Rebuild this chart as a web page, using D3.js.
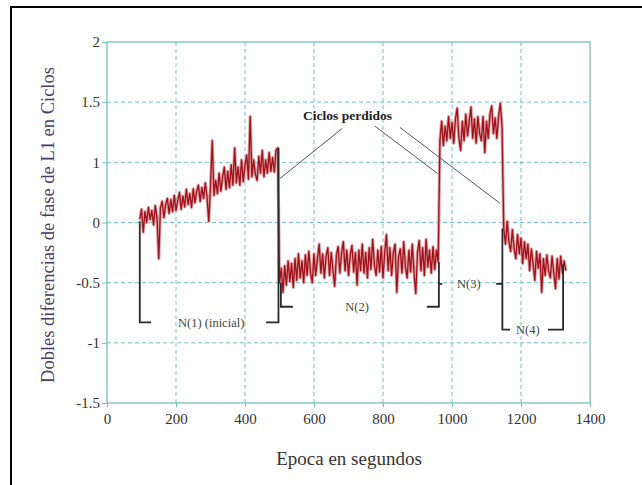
<!DOCTYPE html>
<html>
<head>
<meta charset="utf-8">
<script src="https://cdn.jsdelivr.net/npm/d3@7"></script>
<style>
  body { margin: 0; background: #fff; }
  text { font-family: "Liberation Serif", "Times New Roman", serif; }
</style>
</head>
<body>
<svg id="chart" width="642" height="485"></svg>
<script>
// tick labels (the original axis skips 0.5, grid lines are evenly spaced)
const xTicks = [0, 200, 400, 600, 800, 1000, 1200, 1400];
const yTicks = [-1.5, -1, -0.5, 0, 1, 1.5, 2];

// epoch sampling (seconds)
const step = 5;
const segStart = [95, 500, 965, 1150];

// double differences, cycles
const seg1 = [0.05, 0.22, -0.08, 0.18, 0.00, 0.25, 0.05, 0.20, -0.02, 0.28, 0.08, -0.30, 0.25, 0.35, 0.08, 0.30,
  0.40, 0.15, 0.38, 0.18, 0.45, 0.20, 0.36, 0.50, 0.22, 0.44, 0.26, 0.55, 0.30, 0.48, 0.25, 0.56, 0.33, 0.52,
  0.62, 0.35, 0.58, 0.40, 0.66, 0.42, 0.02, 0.60, 1.18, 0.45, 0.70, 0.48, 0.82, 0.52, 0.75, 0.92, 0.55, 0.85,
  0.58, 0.96, 0.62, 1.12, 0.66, 0.92, 0.62, 1.02, 0.68, 0.95, 1.06, 0.72, 1.38, 0.76, 1.02, 0.80, 0.70, 1.05,
  0.82, 1.10, 0.76, 1.02, 0.82, 1.08, 0.85, 1.04, 0.84, 1.10, 1.12];
const seg2 = [-0.50, -0.38, -0.58, -0.36, -0.52, -0.32, -0.49, -0.34, -0.54, -0.30, -0.48, -0.26, -0.46, -0.32,
  -0.50, -0.27, -0.44, -0.24, -0.42, -0.50, -0.26, -0.44, -0.30, -0.18, -0.42, -0.26, -0.46, -0.28, -0.21,
  -0.44, -0.25, -0.40, -0.53, -0.27, -0.20, -0.42, -0.25, -0.16, -0.40, -0.23, -0.44, -0.27, -0.19, -0.41,
  -0.25, -0.52, -0.23, -0.40, -0.18, -0.42, -0.25, -0.46, -0.21, -0.39, -0.14, -0.35, -0.44, -0.23, -0.41,
  -0.20, -0.46, -0.25, -0.10, -0.40, -0.21, -0.44, -0.25, -0.18, -0.58, -0.29, -0.22, -0.42, -0.16, -0.37,
  -0.46, -0.23, -0.41, -0.18, -0.42, -0.59, -0.25, -0.15, -0.40, -0.21, -0.44, -0.14, -0.37, -0.23, -0.42,
  -0.20, -0.39, -0.23, -0.33];
const seg3 = [1.18, 1.34, 1.14, 1.30, 1.18, 1.38, 1.20, 1.33, 1.16, 1.36, 1.45, 1.20, 1.10, 1.34, 1.18, 1.40,
  1.22, 1.34, 1.46, 1.20, 1.36, 1.16, 1.38, 1.24, 1.18, 1.38, 1.08, 1.34, 1.20, 1.40, 1.47, 1.24, 1.37, 1.20,
  1.38, 1.49, 1.30];
const seg4 = [-0.05, -0.18, 0.02, -0.16, -0.24, -0.06, -0.22, -0.30, -0.10, -0.26, -0.13, -0.34, -0.16, -0.30,
  -0.18, -0.40, -0.22, -0.34, -0.48, -0.24, -0.38, -0.26, -0.58, -0.30, -0.44, -0.27, -0.40, -0.46, -0.28,
  -0.42, -0.55, -0.30, -0.47, -0.28, -0.42, -0.32, -0.40];

// ambiguity brackets [epoch, cycles]
const brackets = [
  [[128, -0.83], [95, -0.83], [95, 0.02]],
  [[461, -0.83], [497, -0.83], [497, 1.12]],
  [[504, -0.5], [504, -0.70], [539, -0.70]],
  [[927, -0.70], [962, -0.70], [962, -0.33]],
  [[962, -0.51], [972, -0.51]],
  [[1128, -0.51], [1146, -0.51]],
  [[1146, -0.05], [1146, -0.89], [1168, -0.89]],
  [[1278, -0.89], [1322, -0.89], [1322, -0.35]]
];
const bracketLabels = [
  { t: 302, v: -0.83, text: "N(1) (inicial)" },
  { t: 725, v: -0.70, text: "N(2)" },
  { t: 1049, v: -0.51, text: "N(3)" },
  { t: 1220, v: -0.89, text: "N(4)" }
];
const leaders = [
  [[681, 1.28], [501, 0.73]],
  [[777, 1.30], [959, 0.81]],
  [[849, 1.29], [1139, 0.32]]
];

const series = [];
[seg1, seg2, seg3, seg4].forEach((seg, k) => {
  seg.forEach((v, i) => series.push({ t: segStart[k] + i * step, v: v }));
});

const svg = d3.select("#chart");
const plotL = 107, plotR = 590, plotT = 42, plotB = 403;

const x = d3.scaleLinear().domain([0, 1400]).range([plotL, plotR]);
const y = d3.scaleLinear()
  .domain(yTicks)
  .range(yTicks.map((d, i) => plotB - i * (plotB - plotT) / (yTicks.length - 1)));

// outer frame
svg.append("rect")
  .attr("x", 11).attr("y", 7).attr("width", 700).attr("height", 520)
  .attr("fill", "none").attr("stroke", "#000").attr("stroke-width", 2);

const grid = "#74c0c0";

// grid
svg.append("g").selectAll("line")
  .data(xTicks.slice(1, -1))
  .join("line")
  .attr("x1", d => x(d)).attr("x2", d => x(d))
  .attr("y1", plotT).attr("y2", plotB)
  .attr("stroke", grid).attr("stroke-dasharray", "4,3");
svg.append("g").selectAll("line")
  .data(yTicks.slice(1, -1))
  .join("line")
  .attr("y1", d => y(d)).attr("y2", d => y(d))
  .attr("x1", plotL).attr("x2", plotR)
  .attr("stroke", grid).attr("stroke-dasharray", "4,3");

svg.append("rect")
  .attr("x", plotL).attr("y", plotT)
  .attr("width", plotR - plotL).attr("height", plotB - plotT)
  .attr("fill", "none").attr("stroke", grid).attr("stroke-width", 1.3);

// axes
const xAxis = svg.append("g")
  .attr("transform", `translate(0,${plotB})`)
  .call(d3.axisBottom(x).tickValues(xTicks).tickSize(4).tickFormat(d => String(d)));
const yAxis = svg.append("g")
  .attr("transform", `translate(${plotL},0)`)
  .call(d3.axisLeft(y).tickValues(yTicks).tickSize(5).tickFormat(d => String(d)));
[xAxis, yAxis].forEach(a => {
  a.attr("font-family", null);
  a.select(".domain").remove();
  a.selectAll(".tick line").attr("stroke", grid);
  a.selectAll(".tick text")
    .attr("fill", "#333")
    .style("font-size", "15px");
});
xAxis.selectAll(".tick text").attr("dy", "0.95em");
yAxis.selectAll(".tick text").attr("x", -7);

// data line: soft halo under a dark red core
const line = d3.line().x(d => x(d.t)).y(d => y(d.v));
svg.append("path")
  .datum(series)
  .attr("fill", "none")
  .attr("stroke", "#d88a8c")
  .attr("stroke-width", 3.2)
  .attr("stroke-linejoin", "round")
  .attr("opacity", 0.8)
  .attr("d", line);
svg.append("path")
  .datum(series)
  .attr("fill", "none")
  .attr("stroke", "#a0101a")
  .attr("stroke-width", 1.3)
  .attr("stroke-linejoin", "round")
  .attr("d", line);

// brackets
const pl = d3.line().x(d => x(d[0])).y(d => y(d[1]));
svg.append("g").selectAll("path")
  .data(brackets)
  .join("path")
  .attr("d", pl)
  .attr("fill", "none")
  .attr("stroke", "#2a2a2a")
  .attr("stroke-width", 1.8);

svg.append("g").selectAll("text")
  .data(bracketLabels)
  .join("text")
  .attr("x", d => x(d.t)).attr("y", d => y(d.v))
  .attr("dy", "0.35em")
  .attr("text-anchor", "middle")
  .attr("fill", "#444")
  .style("font-size", "12.5px")
  .text(d => d.text);

// lost cycles annotation
svg.append("g").selectAll("path")
  .data(leaders)
  .join("path")
  .attr("d", pl)
  .attr("stroke", "#555")
  .attr("stroke-width", 1);
svg.append("text")
  .attr("x", x(697)).attr("y", y(1.39))
  .attr("dy", "0.35em")
  .attr("text-anchor", "middle")
  .attr("fill", "#222")
  .style("font-size", "13.5px")
  .style("font-weight", "bold")
  .text("Ciclos perdidos");

// axis titles
svg.append("text")
  .attr("x", 349).attr("y", 458)
  .attr("dy", "0.35em")
  .attr("text-anchor", "middle")
  .attr("fill", "#333")
  .style("font-size", "19px")
  .text("Epoca en segundos");
svg.append("text")
  .attr("transform", "translate(48,225) rotate(-90)")
  .attr("dy", "0.35em")
  .attr("text-anchor", "middle")
  .attr("fill", "#4a3a68")
  .style("font-size", "18.5px")
  .text("Dobles diferencias de fase de L1 en Ciclos");
</script>
</body>
</html>
